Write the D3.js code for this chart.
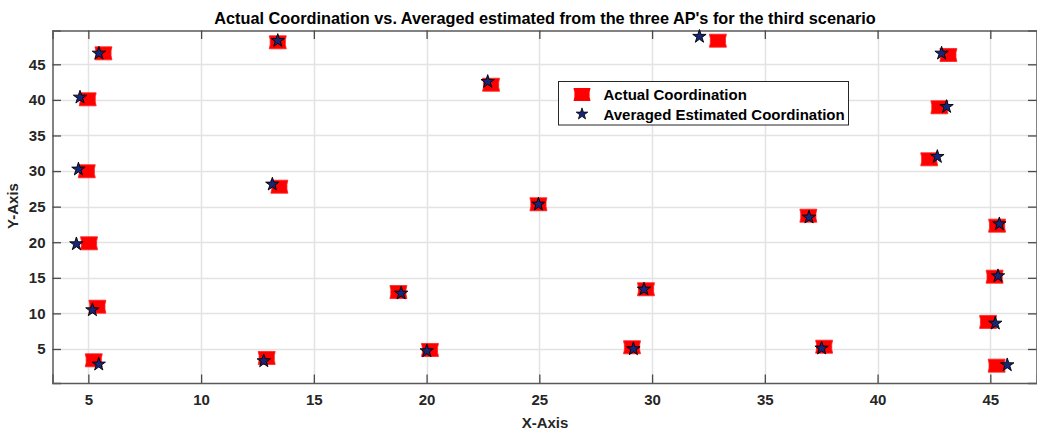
<!DOCTYPE html>
<html>
<head>
<meta charset="utf-8">
<script src="https://cdn.jsdelivr.net/npm/d3@7"></script>
<style>
    body { margin: 0; background: #ffffff; }
    svg { display: block; font-family: "Liberation Sans", Arial, sans-serif; }
</style>
</head>
<body>
<svg id="chart"></svg>
<script>
// Actual coordinates (red markers)
let actualX = [5.67, 4.97, 4.93, 5.03, 5.40, 5.24, 12.91, 13.40, 13.47, 18.75, 20.15, 22.86, 24.96,
    29.73, 29.11, 32.92, 43.14, 42.74, 42.29, 36.93, 45.30, 45.19, 44.90, 37.63, 45.28];
let actualY = [46.54, 40.08, 29.97, 19.85, 10.94, 3.41, 3.74, 48.09, 27.80, 13.00, 4.86, 42.13, 25.33,
    13.39, 5.24, 48.32, 46.31, 38.96, 31.65, 23.73, 22.33, 15.16, 8.80, 5.32, 2.66];

// Averaged estimated coordinates (blue stars)
let estX = [5.47, 4.63, 4.56, 4.47, 5.18, 5.46, 12.78, 13.40, 13.16, 18.87, 20.01, 22.71, 24.96,
    29.64, 29.17, 32.10, 42.84, 43.06, 42.65, 36.96, 45.40, 45.34, 45.22, 37.52, 45.75];
let estY = [46.54, 40.36, 30.25, 19.75, 10.48, 2.85, 3.31, 48.32, 28.14, 12.82, 4.72, 42.56, 25.33,
    13.39, 5.00, 48.90, 46.54, 39.04, 32.02, 23.50, 22.56, 15.26, 8.60, 5.10, 2.75];

let xTicks = [5, 10, 15, 20, 25, 30, 35, 40, 45];
let yTicks = [5, 10, 15, 20, 25, 30, 35, 40, 45];
let seriesNames = ["Actual Coordination", "Averaged Estimated Coordination"];

let titleText = "Actual Coordination vs. Averaged estimated from the three AP's for the third scenario";

let width = 1037;
let height = 434;
// plot box (window.top is taken, so no plain "top")
let plotLeft = 52.5, plotRight = 1037, plotTop = 30.5, plotBottom = 383;

let svg = d3.select("#chart").attr("width", width).attr("height", height);

let x = d3.scaleLinear().domain([3.41, 47.07]).range([plotLeft, plotRight]);
let y = d3.scaleLinear().domain([0.22, 49.75]).range([plotBottom, plotTop]);

let axisColor = "#262626";

// grid
svg.append("g")
    .selectAll("line")
    .data(xTicks)
    .enter()
    .append("line")
    .attr("x1", d => Math.round(x(d)) + 0.5)
    .attr("x2", d => Math.round(x(d)) + 0.5)
    .attr("y1", plotTop)
    .attr("y2", plotBottom)
    .attr("stroke", "#e3e3e3")
    .attr("stroke-width", 1.5);

svg.append("g")
    .selectAll("line")
    .data(yTicks)
    .enter()
    .append("line")
    .attr("x1", plotLeft)
    .attr("x2", plotRight)
    .attr("y1", d => Math.round(y(d)) + 0.5)
    .attr("y2", d => Math.round(y(d)) + 0.5)
    .attr("stroke", "#e3e3e3")
    .attr("stroke-width", 1.5);

// axes (ticks point inward, like matlab)
let tickLen = 8.5;
let xAxis = d3.axisBottom(x).tickValues(xTicks).tickSize(-tickLen).tickPadding(11);
let yAxis = d3.axisLeft(y).tickValues(yTicks).tickSize(-tickLen).tickPadding(7);
let xTop = d3.axisTop(x).tickValues(xTicks).tickSize(-tickLen).tickFormat("");
let yRight = d3.axisRight(y).tickValues(yTicks).tickSize(-tickLen).tickFormat("");

let gx = svg.append("g").attr("transform", "translate(0," + plotBottom + ")").call(xAxis);
let gy = svg.append("g").attr("transform", "translate(" + plotLeft + ",0)").call(yAxis);
let gxt = svg.append("g").attr("transform", "translate(0," + plotTop + ")").call(xTop);
let gyr = svg.append("g").attr("transform", "translate(" + (plotRight - 0.5) + ",0)").call(yRight);

[gx, gy, gxt, gyr].forEach(function(g){
    g.select(".domain").attr("stroke", "#5a5a5a").attr("stroke-width", 1.5);
    g.selectAll(".tick line").attr("stroke", "#4a4a4a").attr("stroke-width", 1.3);
    g.selectAll("text")
        .attr("fill", axisColor)
        .attr("font-size", 15)
        .attr("font-weight", "bold")
        .attr("font-family", "Liberation Sans, Arial, sans-serif");
});

// marker shapes
function actualMarker(){
    return "M-8.5,-6.5L8.5,-6.5L7.6,-2.5L7.6,2.5L8.5,6.5L-8.5,6.5L-7.6,2.5L-7.6,-2.5Z";
}
let starPath = d3.symbol().type(d3.symbolStar).size(56)();
let starLegend = d3.symbol().type(d3.symbolStar).size(42)();

// red actual points
svg.append("g")
    .selectAll("path")
    .data(actualX)
    .enter()
    .append("path")
    .attr("d", actualMarker())
    .attr("transform", (d, i) => "translate(" + x(d) + "," + y(actualY[i]) + ")")
    .attr("fill", "#ff0000")
    .attr("stroke", "#ff2020")
    .attr("stroke-width", 0.8)
    .attr("stroke-linejoin", "round");

// estimated stars
svg.append("g")
    .selectAll("path")
    .data(estX)
    .enter()
    .append("path")
    .attr("d", starPath)
    .attr("transform", (d, i) => "translate(" + x(d) + "," + y(estY[i]) + ")")
    .attr("fill", "#16277a")
    .attr("stroke", "#000000")
    .attr("stroke-width", 0.9);

// legend
let legend = svg.append("g").attr("transform", "translate(558.5,81.5)");
legend.append("rect")
    .attr("width", 290)
    .attr("height", 43.5)
    .attr("fill", "#ffffff")
    .attr("stroke", "#262626")
    .attr("stroke-width", 1);

legend.append("path")
    .attr("d", actualMarker())
    .attr("transform", "translate(23.5,13)")
    .attr("fill", "#ff0000");
legend.append("path")
    .attr("d", starLegend)
    .attr("transform", "translate(23.5,32.5)")
    .attr("fill", "#16277a")
    .attr("stroke", "#000000")
    .attr("stroke-width", 0.8);

legend.selectAll("text")
    .data(seriesNames)
    .enter()
    .append("text")
    .attr("x", 45)
    .attr("y", (d, i) => 13.5 + i * 20)
    .attr("dy", "0.35em")
    .attr("fill", "#000000")
    .attr("font-size", 15)
    .attr("font-weight", "bold")
    .text(d => d);

// title and labels
svg.append("text")
    .attr("x", 545)
    .attr("y", 24)
    .attr("text-anchor", "middle")
    .attr("font-size", 16.3)
    .attr("font-weight", "bold")
    .attr("fill", "#000000")
    .text(titleText);

svg.append("text")
    .attr("x", 545)
    .attr("y", 428)
    .attr("text-anchor", "middle")
    .attr("font-size", 15)
    .attr("font-weight", "bold")
    .attr("fill", axisColor)
    .text("X-Axis");

svg.append("text")
    .attr("transform", "translate(18,206) rotate(-90)")
    .attr("text-anchor", "middle")
    .attr("font-size", 15)
    .attr("font-weight", "bold")
    .attr("fill", axisColor)
    .text("Y-Axis");
</script>
</body>
</html>
